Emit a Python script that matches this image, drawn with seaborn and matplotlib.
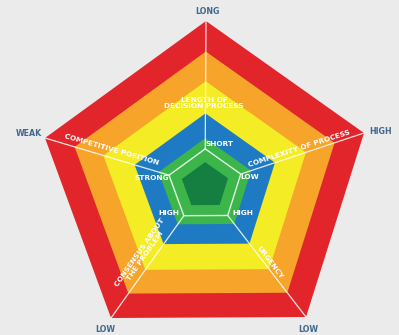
import numpy as np
import pandas as pd
import matplotlib
matplotlib.use("Agg")
import matplotlib.pyplot as plt
import seaborn as sns

# ---- data ----
axis_names = ["LENGTH OF\nDECISION PROCESS", "COMPLEXITY OF PROCESS", "URGENCY",
              "CONSENSUS ABOUT\nTHE PROBLEM", "COMPETITIVE POSITION"]
outer_labels = ["LONG", "HIGH", "LOW", "LOW", "WEAK"]
inner_labels = ["SHORT", "LOW", "HIGH", "HIGH", "STRONG"]
band_levels = [1.0, 0.815, 0.635, 0.44, 0.29, 0.145]
band_colors = ["#e2252b", "#f6a42a", "#f4ec24", "#1e7bc3", "#3cb54b", "#147f40"]
grid_level = 0.225

# ---- layout (pixel geometry of the distorted pentagon) ----
W, H = 399, 335
cx, cy = 205, 186
vdx = np.array([1, 159, 101, -94, -160])
vdy = np.array([-165, -53, 131, 132, -48])

sns.set_theme(style="white")
plt.rcParams['font.family'] = ['DejaVu Sans']
bg = "#ebebeb"
fig = plt.figure(figsize=(W / 100, H / 100), dpi=100, facecolor=bg)
ax = fig.add_axes([0, 0, 1, 1])
ax.set_facecolor(bg)

def poly(r):
    return cx + r * vdx, cy + r * vdy

for lvl, col in zip(band_levels, band_colors):
    x, y = poly(lvl)
    ax.fill(x, y, color=col, lw=0, zorder=1)

# spokes and inner grid pentagon
rows = []
for i in range(5):
    for r in (grid_level, 1.0):
        rows.append({"unit": i, "x": cx + r * vdx[i], "y": cy + r * vdy[i]})
spokes = pd.DataFrame(rows)
sns.lineplot(data=spokes, x="x", y="y", units="unit", estimator=None, sort=False,
             color="white", lw=0.9, alpha=0.85, ax=ax, zorder=2, legend=False)
gx, gy = poly(grid_level)
ring = pd.DataFrame({"x": np.append(gx, gx[0]), "y": np.append(gy, gy[0])})
sns.lineplot(data=ring, x="x", y="y", sort=False, estimator=None,
             color="white", lw=1.0, alpha=0.85, ax=ax, zorder=2)
ax.set_xlim(0, W)
ax.set_ylim(H, 0)
ax.axis("off")

lab_col = "#41678f"
fs = 5.3
outer_pos = [(207, 11), (381, 132), (308, 329), (105, 329), (29, 133)]
for t, (x, y) in zip(outer_labels, outer_pos):
    ax.text(x, y, t, color=lab_col, fontsize=5.7, fontweight="bold",
            ha="center", va="center", zorder=3)

inner_pos = [(220, 144), (250, 177), (243, 213), (169, 213), (152, 178)]
for t, (x, y) in zip(inner_labels, inner_pos):
    ax.text(x, y, t, color="white", fontsize=fs, fontweight="bold",
            ha="center", va="center", zorder=3)

name_pos = [(204, 103, 0), (299, 149, 18), (270, 263, -53), (142, 254, 55), (112, 150, -16)]
for t, (x, y, rot) in zip(axis_names, name_pos):
    ax.text(x, y, t, color="white", fontsize=fs, fontweight="bold",
            ha="center", va="center", rotation=rot, rotation_mode="anchor",
            linespacing=1.1, zorder=3)

fig.savefig("out.png", dpi=100, facecolor=bg)
